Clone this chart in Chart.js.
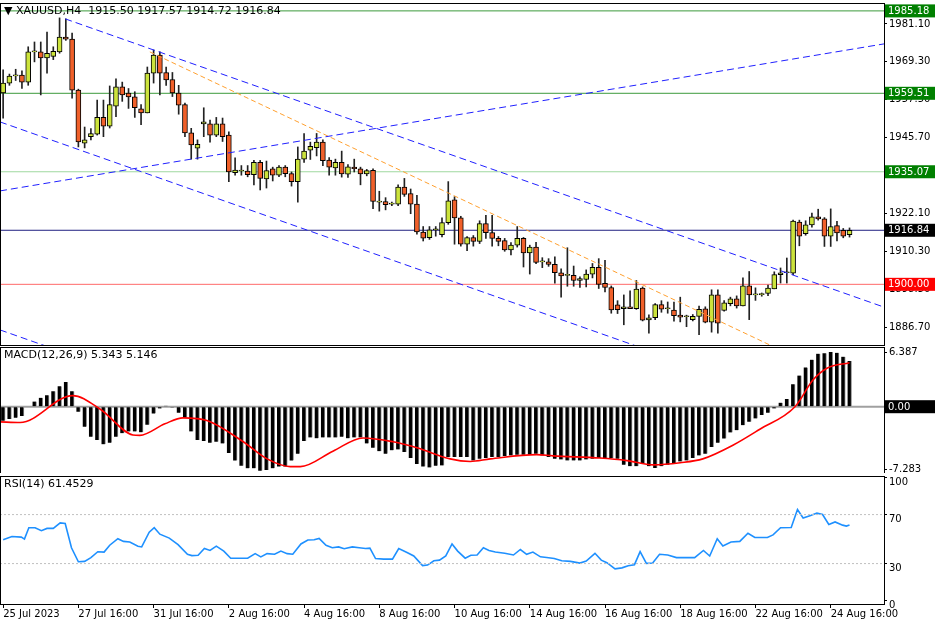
<!DOCTYPE html>
<html><head><meta charset="utf-8">
<script src="https://cdn.jsdelivr.net/npm/chart.js@4.4.1/dist/chart.umd.min.js"></script>
<style>
html,body{margin:0;padding:0;background:#fff;width:936px;height:624px;overflow:hidden}
canvas{position:absolute;left:0}
</style></head><body>
<canvas id="cp" width="936" height="346" style="top:0"></canvas>
<canvas id="cm" width="936" height="127" style="top:346px"></canvas>
<canvas id="cr" width="936" height="150" style="top:474px"></canvas>
<script>
// ---- DATA ----
const symbolTitle = '▼ XAUUSD,H4  1915.50 1917.57 1914.72 1916.84';
const opens  = [1959.6,1962.7,1964.9,1965.2,1963,1972.4,1972.4,1970.5,1971,1972.4,1977,1976.4,1960.5,1944,1946,1946.8,1952,1949.3,1955.5,1961.5,1959.6,1958.4,1954.7,1953.4,1965.8,1971.4,1966,1963.8,1959.6,1956,1947.2,1942.4,1950,1950,1946.5,1950,1946.5,1934.8,1935.3,1935.3,1934.2,1938,1932.8,1936,1934,1936.5,1934.5,1932,1939,1941.8,1942.6,1944.3,1938.7,1936.3,1938,1934.3,1936.5,1936,1934.4,1935.5,1925.6,1925.8,1925,1925,1930.3,1928.3,1925,1916.3,1914.5,1917,1915.5,1919.2,1926.3,1920.7,1912.5,1914.6,1913.4,1918.9,1916.1,1914.3,1913.6,1910.7,1912.2,1914.3,1909.8,1911.6,1907,1907,1906.2,1903.6,1902.8,1902.8,1901.2,1901.5,1903.2,1905.3,1900.3,1899,1893.6,1892.4,1893,1892.4,1898.8,1888.9,1889.6,1893.7,1892.4,1892,1890.4,1889.9,1889,1890,1892.4,1888.2,1896.7,1891.9,1894,1895.5,1893.3,1899.5,1896.7,1896.8,1897.2,1898.6,1903,1903.6,1903.5,1919.4,1915.8,1918.5,1921,1920.4,1915,1918.3,1916.8,1915.5];
const highs  = [1966.8,1965.5,1967,1966.5,1974,1975.5,1975.5,1978.6,1974,1983,1982.7,1978.3,1960.8,1949,1948.5,1957.4,1957.4,1961.8,1964,1963,1961,1960,1956,1967.7,1973,1972.4,1967.7,1966,1962,1956.5,1948.6,1945,1955,1951.2,1952,1951.8,1947.5,1939.4,1937,1937,1938.6,1938.6,1938.4,1936.5,1937,1937,1935,1942.8,1947,1944.3,1947,1945,1939.5,1939,1941.5,1937.3,1939,1936.5,1935.8,1936,1929,1927,1925.6,1931,1933,1929.7,1927.7,1918,1918,1918,1920.7,1932,1927.3,1921.2,1914.9,1915.2,1919.8,1921.5,1921.5,1914.9,1914.3,1913,1918,1914.6,1912.2,1913.1,1908.3,1908,1908.6,1904.8,1911.4,1905.7,1902.3,1904.5,1906.5,1908,1907.5,1899.5,1894.9,1896.7,1898,1901.2,1899.2,1890.5,1894,1894.9,1894.5,1894.5,1896,1890.4,1890.6,1893.2,1893,1898.3,1898.3,1894.9,1896,1896.4,1902,1904,1898.9,1897.3,1899.8,1903.9,1905.1,1908.2,1920,1920,1919.8,1922.2,1923.4,1920.8,1923.5,1919.6,1917.4,1917.57];
const lows   = [1951.8,1962,1963.5,1961,1962,1969.3,1959,1965.8,1970,1972,1976,1958,1942.8,1942.5,1945,1946.5,1946,1948.7,1952.2,1957,1954.8,1952,1949.7,1953.4,1962.7,1959,1962,1958.5,1953,1946,1939,1939,1946,1944.3,1946,1944.5,1932,1934,1934,1933.5,1931,1929.4,1930,1932.2,1933.5,1933.5,1930.6,1925.6,1938,1938.9,1940,1937,1934,1934,1933.4,1933.3,1935,1931,1933.8,1923.6,1922.8,1923.2,1924.5,1924.5,1927.4,1922,1915.6,1913.5,1914,1915,1914.8,1918.7,1912.5,1911.9,1910.5,1911.9,1912.7,1914.3,1911.9,1912,1910.3,1909.2,1911.6,1905.4,1903.2,1906.4,1905.2,1905.6,1900.4,1896,1899.4,1899.4,1899,1899.2,1902,1898.7,1897.6,1891,1890.9,1887.4,1893,1892.2,1888.6,1884.8,1889,1891.3,1891,1888.5,1888.3,1886.8,1888.6,1884.3,1888,1885.1,1884.8,1891.6,1893.3,1892.6,1893.3,1889,1895,1896.3,1896.5,1898.6,1900.4,1900.4,1903,1912,1915.3,1917.8,1920,1911.8,1911.8,1913.5,1914.5,1914.72];
const closes = [1962.7,1964.9,1965.3,1963,1972.4,1972.6,1970.5,1972,1972.6,1977,1976.4,1960.5,1944.4,1945,1947,1952,1949.3,1956,1961.5,1959,1958.4,1955,1953.4,1965.8,1971.4,1965.8,1963.7,1959.6,1955.8,1947.2,1943.4,1943.6,1950.6,1946.5,1950,1946,1935,1935.6,1935.3,1934.2,1938,1933,1935.4,1934,1936.5,1934.5,1932,1939,1941.5,1943,1944.3,1938.5,1936.5,1938,1934.4,1936.6,1936,1934.4,1935.4,1925.8,1925.6,1924.8,1925,1930.3,1928,1925,1916.3,1914.4,1917,1917,1919.2,1926,1920.7,1912.5,1914.6,1913.4,1918.9,1916.1,1914.3,1913.4,1910.7,1912.2,1914.3,1909.8,1911.6,1906.8,1907,1906.2,1903.6,1902.6,1902.8,1901.2,1901.8,1903.2,1905.3,1900,1899,1892,1892.1,1893,1892.4,1898.5,1888.8,1889.6,1893.7,1892.3,1892.4,1890.2,1889.8,1889.9,1890,1892.2,1888.2,1896.7,1887.9,1894.2,1895.5,1893.3,1899.5,1896.7,1896.7,1896.8,1898.8,1903,1903.6,1903.6,1919.7,1915,1918.5,1921,1920.4,1915,1918,1916,1915,1916.84];
const priceTicks = [1981.10,1969.30,1957.50,1945.70,1933.90,1922.10,1910.30,1898.50,1886.70];
const levelValues = [1985.18,1959.51,1935.07,1916.84,1900.00];
const levelColors = ['#3c9a3c','#3c9a3c','#9fd89f','#202080','#ff6a6a'];
const levelBoxColors = ['#008000','#008000','#008000','#000000','#ff0000'];
// trend lines: [startIndex, startPrice, endIndex, endPrice]
const trendUpper  = [9.9,1982.7,140.5,1892.9];
const trendLower1 = [-0.5,1950.6,140.5,1853.6];
const trendLower2 = [-0.5,1885.8,140.5,1788.8];
const trendRising = [-0.5,1929.1,140.5,1974.9];
const trendOrange = [23.4,1972.4,122.3,1881.1];

const macdTitle = 'MACD(12,26,9) 5.343 5.146';
const macdHist = [-1.65,-1.45,-1.3,-1.1,-0.05,0.6,1.05,1.35,1.8,2.4,2.9,1.8,-0.6,-2.35,-3.5,-3.9,-4.4,-4.2,-3.5,-3.1,-2.9,-2.9,-3.0,-2.1,-0.8,-0.2,0.1,-0.1,-0.7,-1.3,-2.9,-3.9,-4.0,-4.2,-4.1,-4.3,-5.4,-6.3,-6.9,-7.2,-7.2,-7.5,-7.4,-7.2,-7.0,-7.0,-6.3,-5.5,-4.0,-3.6,-3.7,-3.6,-3.6,-3.6,-3.5,-3.7,-3.6,-3.6,-4.3,-4.8,-5.2,-5.5,-5.1,-5.0,-5.3,-6.0,-6.7,-7.0,-7.1,-6.9,
 -6.87,-5.89,-5.89,-5.89,-5.89,-6.28,-6.09,-6.0,-5.89,-5.89,-5.77,-5.69,-5.61,-5.61,-5.61,-5.5,-5.69,-5.89,-6.09,-6.16,-6.28,-6.28,-6.28,-6.16,-6.09,-6.0,-6.0,-6.0,-6.09,-6.79,-6.95,-6.95,-6.67,-6.95,-7.18,-6.95,-6.79,-6.67,-6.4,-6.28,-6.0,-5.69,-5.5,-4.71,-4.2,-3.73,-3.02,-2.75,-2.16,-1.77,-1.37,-0.98,-0.71,-0.2,0.47,0.9,2.63,3.65,4.59,5.5,6.2,6.25,6.387,6.3,5.85,5.343];
const signalX = [-0.5,2.7,11.1,15.5,20.7,21.8,25.8,28.7,32.5,38.3,42.1,45.8,47.4,52.6,57.4,62.2,66,71.3,74.5,77.7,85.1,87.7,95.2,99.5,103.7,108,111.6,116.4,120.7,126.3,129.2,131.4,135];
const signalV = [-1.77,-1.85,1.3,-0.3,-3.3,-3.35,-2.0,-1.3,-1.6,-4.1,-6.1,-7.0,-7.0,-5.2,-3.65,-4.1,-4.8,-6.1,-6.4,-6.1,-5.6,-5.75,-6.0,-6.3,-6.8,-6.55,-6.1,-4.5,-2.63,0,3.14,4.5,5.146];
const macdTicks = [6.387,0,-7.283];

const rsiTitle = 'RSI(14) 61.4529';
const rsiX = [0,1.4,2.9,3.4,4.1,5.1,6.1,7.0,8.0,9.1,9.9,10.9,12.0,13.0,14.0,15.1,16.1,17.0,18.3,19.2,20.2,21.5,22.1,23.3,24.1,25.0,26.5,27.9,29.4,30.1,31.1,32.1,33.0,34.0,35.2,36.3,37.6,39.0,40.2,41.1,42.1,43.3,44.3,45.3,46.2,47.5,48.6,49.6,50.4,51.5,52.5,53.5,54.4,55.7,56.8,57.8,58.5,59.4,60.7,62.1,63.1,64.5,65.5,66.9,67.7,68.7,69.6,70.6,71.6,72.5,73.7,74.6,75.6,76.6,77.5,78.5,80.0,81.4,82.5,83.5,84.5,85.7,86.7,87.9,89.1,90.5,92.0,93.0,94.4,95.4,96.3,97.6,98.7,99.7,100.7,101.6,102.6,103.6,104.7,106.0,107.4,108.9,110.3,111.7,112.7,113.9,114.8,116.1,117.5,118.8,119.9,121.9,122.8,124.0,125.7,126.7,127.6,128.8,129.8,130.7,131.7,132.7,133.9,134.5,135];
const rsiV = [49.5,52.1,51.6,50.0,59.3,59.3,56.9,58.7,58.7,63.2,62.7,42.9,31.5,31.8,34.9,39.7,39.4,45.0,50.3,48.1,47.6,44.2,43.6,55.6,59.3,54.0,50.8,45.5,37.6,36.5,36.8,42.3,40.7,44.2,40.2,34.4,34.4,34.4,38.1,35.5,38.1,37.6,40.2,38.1,37.6,46.0,49.2,49.5,50.5,44.9,42.9,43.6,42.1,43.6,42.9,42.3,42.6,34.1,33.6,33.6,42.3,38.9,36.2,28.3,28.8,32.3,32.8,36.2,46.0,40.2,34.4,36.8,37.0,42.9,40.7,39.4,38.4,37.0,41.5,37.6,39.4,35.5,35.0,34.1,32.3,31.8,30.4,32.0,38.4,32.8,30.7,25.7,26.5,28.3,29.1,39.7,30.2,30.4,37.6,37.0,34.9,34.9,34.9,40.7,36.2,50.3,44.4,47.6,48.1,54.8,51.3,51.3,53.4,59.3,59.5,74.1,67.2,69.3,71.2,70.1,61.9,64.0,61.4,60.6,61.4529,61.4529];
const rsiTicks = [100,70,30,0];
const timeLabels = ['25 Jul 2023','27 Jul 16:00','31 Jul 16:00','2 Aug 16:00','4 Aug 16:00','8 Aug 16:00','10 Aug 16:00','14 Aug 16:00','16 Aug 16:00','18 Aug 16:00','22 Aug 16:00','24 Aug 16:00'];
const timeLabelIdx = [0,12,24,36,48,60,72,84,96,108,120,132];

// ---- CHARTS ----
const FONT = {family:'"DejaVu Sans", "Liberation Sans", sans-serif', size:10};
Chart.defaults.font = FONT;
Chart.defaults.color = '#000';
const XMIN=-0.5, XMAX=140.5, AXW=52;

function xScale(show){
  const s = {type:'linear',min:XMIN,max:XMAX,display:show,offset:false,
    grid:{display:show,drawOnChartArea:false,drawTicks:true,tickLength:4,color:'#000'},
    border:{display:false},
    afterBuildTicks:s=>{s.ticks=timeLabelIdx.map(v=>({value:v}));},
    ticks:{align:'start',maxRotation:0,autoSkip:false,padding:0,
      callback:(v)=>{const k=timeLabelIdx.indexOf(v);return k>=0?timeLabels[k]:'';}}};
  if(show) s.afterFit = sc=>{sc.height=20;sc.paddingLeft=0;sc.paddingRight=0;};
  return s;
}
function yScale(min,max,ticks,fmt,lo){
  return {type:'linear',position:'right',min,max,
    afterFit:s=>{s.width=AXW;s.paddingTop=0;s.paddingBottom=0;},
    afterBuildTicks:s=>{s.ticks=ticks.map(v=>({value:v}));},
    grid:{drawOnChartArea:false,drawTicks:true,tickLength:3,color:'#000'},
    border:{display:true,color:'#000'},
    ticks:{padding:2,callback:fmt,labelOffset:lo||0}};
}
const framePlugin = (title, boxes)=>({id:'frame',afterDraw(c){
  const ctx=c.ctx,a=c.chartArea;ctx.save();
  ctx.strokeStyle='#000';ctx.lineWidth=1;
  ctx.strokeRect(a.left+0.5,a.top+0.5,a.right-a.left,a.bottom-a.top);
  ctx.font='11px "DejaVu Sans", sans-serif';ctx.fillStyle='#000';ctx.textBaseline='top';
  ctx.fillText(title,a.left+4,a.top+3);
  const ys=c.scales.y;
  (boxes||[]).forEach(b=>{
    const y=ys.getPixelForValue(b.v);
    ctx.fillStyle=b.bg;ctx.fillRect(a.right+1,y-6.5,AXW-2,13);
    ctx.fillStyle=b.fg||'#fff';ctx.textBaseline='middle';ctx.font='10px "DejaVu Sans", sans-serif';
    ctx.fillText(b.t,a.right+4,y+0.5);
  });
  ctx.restore();
}});
const base = {responsive:false,animation:false,devicePixelRatio:1,
  plugins:{legend:{display:false},tooltip:{enabled:false}}};

function seg(t,color,dash){return {type:'line',data:[{x:t[0],y:t[1]},{x:t[2],y:t[3]}],
  borderColor:color,borderWidth:1,borderDash:dash,pointRadius:0,order:0};}

const idx = closes.map((_,i)=>i);
const up = idx.map(i=>closes[i]>=opens[i]);
const datasetsP = [
  {type:'bar',data:idx.map(i=>({x:i,y:[lows[i],highs[i]]})),barThickness:1,grouped:false,
    backgroundColor:'#222',borderWidth:0,order:3},
  {type:'bar',data:idx.map(i=>({x:i,y:[opens[i],closes[i]]})),barThickness:5,grouped:false,minBarLength:1,
    backgroundColor:up.map(u=>u?'#cce33c':'#f0602a'),borderColor:'#000',borderWidth:1,borderSkipped:false,order:2},
  ...levelValues.map((v,k)=>({type:'line',data:[{x:XMIN,y:v},{x:XMAX,y:v}],borderColor:levelColors[k],
    borderWidth:1,pointRadius:0,order:4})),
  seg(trendUpper,'#2020ff',[7,4]),seg(trendLower1,'#2020ff',[7,4]),seg(trendLower2,'#2020ff',[7,4]),
  seg(trendRising,'#2020ff',[7,4]),seg(trendOrange,'#ffa030',[5,3])
];
new Chart(document.getElementById('cp'),{data:{datasets:datasetsP},
  options:{...base,layout:{padding:{top:3,bottom:1,left:0,right:0}},
    scales:{x:xScale(false),y:yScale(1881.1,1987.64,priceTicks,v=>v.toFixed(2))}},
  plugins:[framePlugin(symbolTitle,levelValues.map((v,k)=>({v,t:v.toFixed(2),bg:levelBoxColors[k]})))]});

new Chart(document.getElementById('cm'),{data:{datasets:[
  {type:'line',data:[{x:XMIN,y:0},{x:XMAX,y:0}],borderColor:'#a0a0a0',borderWidth:2,pointRadius:0,order:3},
  {type:'bar',data:macdHist.map((v,i)=>({x:i,y:v})),barThickness:4,grouped:false,backgroundColor:'#000',
    borderColor:'#888',borderWidth:{right:1},borderSkipped:false,order:2},
  {type:'line',data:signalX.map((x,i)=>({x,y:signalV[i]})),borderColor:'#ff0000',borderWidth:1.6,
    pointRadius:0,tension:0.4,cubicInterpolationMode:'monotone',order:1}]},
  options:{...base,layout:{padding:{top:1,bottom:0}},
    scales:{x:xScale(false),y:yScale(-7.75,6.98,macdTicks,v=>v===0?'':v.toFixed(3))}},
  plugins:[framePlugin(macdTitle,[{v:0,t:'0.00',bg:'#000'}])]});

new Chart(document.getElementById('cr'),{data:{datasets:[
  {type:'line',data:[{x:XMIN,y:70},{x:XMAX,y:70}],borderColor:'#c0c0c0',borderDash:[2,2],borderWidth:1,pointRadius:0},
  {type:'line',data:[{x:XMIN,y:30},{x:XMAX,y:30}],borderColor:'#c0c0c0',borderDash:[2,2],borderWidth:1,pointRadius:0},
  {type:'line',data:rsiX.map((x,i)=>({x,y:rsiV[i]})),borderColor:'#1e90ff',borderWidth:1.6,pointRadius:0}]},
  options:{...base,layout:{padding:{top:2,bottom:0}},
    scales:{x:xScale(true),y:yScale(-3,101.5,rsiTicks,v=>String(v),5)}},
  plugins:[framePlugin(rsiTitle,[])]});
</script></body></html>
